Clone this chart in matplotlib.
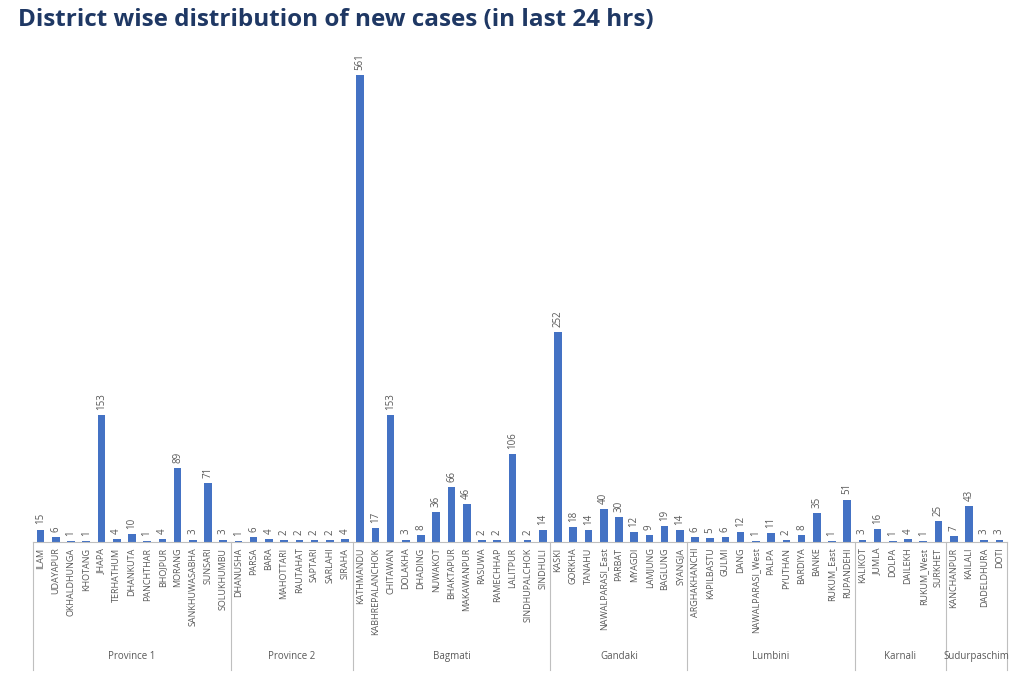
import matplotlib
matplotlib.use("Agg")
import matplotlib.pyplot as plt
from matplotlib.transforms import blended_transform_factory

districts = ["ILAM", "UDAYAPUR", "OKHALDHUNGA", "KHOTANG", "JHAPA", "TERHATHUM", "DHANKUTA",
             "PANCHTHAR", "BHOJPUR", "MORANG", "SANKHUWASABHA", "SUNSARI", "SOLUKHUMBU",
             "DHANUSHA", "PARSA", "BARA", "MAHOTTARI", "RAUTAHAT", "SAPTARI", "SARLAHI", "SIRAHA",
             "KATHMANDU", "KABHREPALANCHOK", "CHITAWAN", "DOLAKHA", "DHADING", "NUWAKOT",
             "BHAKTAPUR", "MAKAWANPUR", "RASUWA", "RAMECHHAP", "LALITPUR", "SINDHUPALCHOK", "SINDHULI",
             "KASKI", "GORKHA", "TANAHU", "NAWALPARASI_East", "PARBAT", "MYAGDI", "LAMJUNG",
             "BAGLUNG", "SYANGJA",
             "ARGHAKHANCHI", "KAPILBASTU", "GULMI", "DANG", "NAWALPARASI_West", "PALPA", "PYUTHAN",
             "BARDIYA", "BANKE", "RUKUM_East", "RUPANDEHI",
             "KALIKOT", "JUMLA", "DOLPA", "DAILEKH", "RUKUM_West", "SURKHET",
             "KANCHANPUR", "KAILALI", "DADELDHURA", "DOTI"]
cases = [15, 6, 1, 1, 153, 4, 10, 1, 4, 89, 3, 71, 3,
         1, 6, 4, 2, 2, 2, 2, 4,
         561, 17, 153, 3, 8, 36, 66, 46, 2, 2, 106, 2, 14,
         252, 18, 14, 40, 30, 12, 9, 19, 14,
         6, 5, 6, 12, 1, 11, 2, 8, 35, 1, 51,
         3, 16, 1, 4, 1, 25,
         7, 43, 3, 3]
provinces = ["Province 1", "Province 2", "Bagmati", "Gandaki", "Lumbini", "Karnali", "Sudurpaschim"]
province_counts = [13, 8, 13, 9, 11, 6, 4]

plt.rcParams['font.family'] = ['Open Sans', 'DejaVu Sans']
gray = "#595959"
linec = "#BFBFBF"

fig = plt.figure(figsize=(10.24, 6.85), dpi=100)
ax = fig.add_axes([33/1024, 1-542/685, (1007-33)/1024, (542-42)/685])

x = list(range(len(districts)))
ax.bar(x, cases, width=0.5, color="#4472C4")
ax.set_xlim(-0.5, len(districts) - 0.5)
ax.set_ylim(0, 600)
for xi, v in zip(x, cases):
    ax.text(xi, v + 6, str(v), rotation=90, ha="center", va="bottom", fontsize=7, color=gray)

ax.set_xticks(x)
ax.set_xticklabels(districts, rotation=90, fontsize=6.5, color=gray)
ax.tick_params(axis="x", length=0, pad=4)
ax.set_yticks([])
for s in ["top", "right", "left"]:
    ax.spines[s].set_visible(False)
ax.spines["bottom"].set_color(linec)

trans = blended_transform_factory(ax.transData, ax.transAxes)
start = 0
bounds = [-0.5]
for name, n in zip(provinces, province_counts):
    end = start + n
    bounds.append(end - 0.5)
    ax.text((start + end - 1) / 2, -0.234, name, transform=trans, ha="center", va="baseline",
            fontsize=7, color=gray)
    start = end
for b in bounds:
    ax.plot([b, b], [0, -0.256], transform=trans, color=linec, lw=0.8, clip_on=False)

fig.text(18/1024, 1-20/685, "District wise distribution of new cases (in last 24 hrs)",
         fontsize=17.5, fontweight="bold", color="#1F3864", ha="left", va="center")

fig.savefig("out.png", dpi=100)
